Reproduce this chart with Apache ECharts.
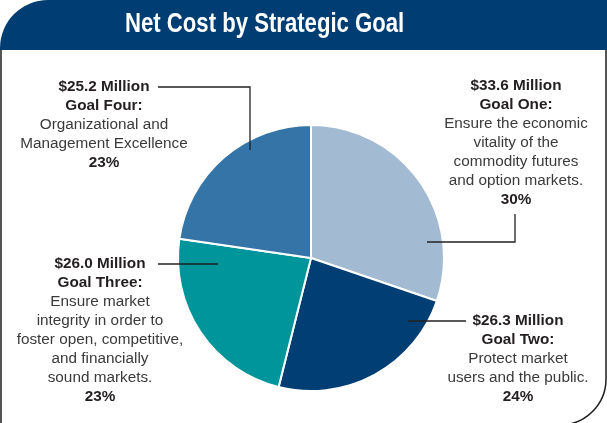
<!DOCTYPE html>
<html>
<head>
<meta charset="utf-8">
<script src="https://cdn.jsdelivr.net/npm/echarts@6/dist/echarts.min.js"></script>
<style>
  html, body { margin: 0; padding: 0; background: #fff; }
  #chart { width: 607px; height: 423px; }
</style>
</head>
<body>
<div id="chart"></div>
<script>
// data
var goalNames = ['Goal One', 'Goal Two', 'Goal Three', 'Goal Four'];
var netCost = [33.6, 26.3, 26.0, 25.2]; // $ million
var descriptions = [
  ['Ensure the economic', 'vitality of the', 'commodity futures', 'and option markets.'],
  ['Protect market', 'users and the public.'],
  ['Ensure market', 'integrity in order to', 'foster open, competitive,', 'and financially', 'sound markets.'],
  ['Organizational and', 'Management Excellence']
];
var sliceColors = ['#a2bbd2', '#003e73', '#00959a', '#3474a6'];

// where each text block sits and its leader line
var labelSpots = [
  { x: 516, y: 76, line: [[427, 242], [515, 242], [515, 214]] },
  { x: 518, y: 311, line: [[408, 321], [466, 321]] },
  { x: 100, y: 254, line: [[218, 264], [158, 264]] },
  { x: 104, y: 77, line: [[250, 150], [250, 87], [158, 87]] }
];

var chartDom = document.getElementById('chart');
var myChart = echarts.init(chartDom);

var data = goalNames.map(function (name, i) {
  return { name: name, value: netCost[i], itemStyle: { color: sliceColors[i] } };
});

// leader lines drawn above the slices
var leaderLines = labelSpots.map(function (s) {
  return {
    type: 'polyline',
    shape: { points: s.line },
    style: { stroke: '#222', lineWidth: 1.3, fill: null },
    z: 100
  };
});

var option = {
  animation: false,
  graphic: [
    // body frame
    {
      type: 'rect',
      shape: { x: 1, y: 49, width: 605, height: 376, r: [0, 0, 46, 0] },
      style: { fill: '#fff', stroke: '#1d1d1d', lineWidth: 1.5 },
      z: -10
    },
    // header band
    {
      type: 'rect',
      shape: { x: 0, y: 0, width: 607, height: 50, r: [48, 0, 0, 0] },
      style: { fill: '#003d73' },
      z: -5
    },
    {
      type: 'text',
      x: 125,
      y: 25,
      scaleX: 0.82,
      originX: 0,
      style: {
        text: 'Net Cost by Strategic Goal',
        fill: '#fff',
        textAlign: 'left',
        textVerticalAlign: 'middle',
        font: 'bold 27px "Liberation Sans", Arial, sans-serif'
      }
    }
  ].concat(leaderLines),
  series: [
    {
      type: 'pie',
      center: [311, 258],
      radius: 133,
      startAngle: 90,
      clockwise: true,
      itemStyle: { borderColor: '#fff', borderWidth: 2 },
      label: {
        show: true,
        position: 'outside',
        overflow: 'none',
        formatter: function (p) {
          var i = p.dataIndex;
          var lines = ['{b|$' + netCost[i].toFixed(1) + ' Million}', '{b|' + goalNames[i] + ':}'];
          descriptions[i].forEach(function (d) { lines.push('{r|' + d + '}'); });
          lines.push('{b|' + Math.round(p.percent) + '%}');
          return lines.join('\n');
        },
        rich: {
          b: {
            fontFamily: '"Liberation Sans", Arial, sans-serif',
            fontWeight: 'bold',
            fontSize: 15.3,
            lineHeight: 19,
            color: '#231f20'
          },
          r: {
            fontFamily: '"Liberation Sans", Arial, sans-serif',
            fontSize: 15.3,
            lineHeight: 19,
            color: '#3a3a3a'
          }
        }
      },
      labelLine: { show: false },
      labelLayout: function (params) {
        var s = labelSpots[params.dataIndex];
        return {
          x: s.x,
          y: s.y,
          align: 'center',
          verticalAlign: 'top'
        };
      },
      data: data
    }
  ]
};

option && myChart.setOption(option);
</script>
</body>
</html>
